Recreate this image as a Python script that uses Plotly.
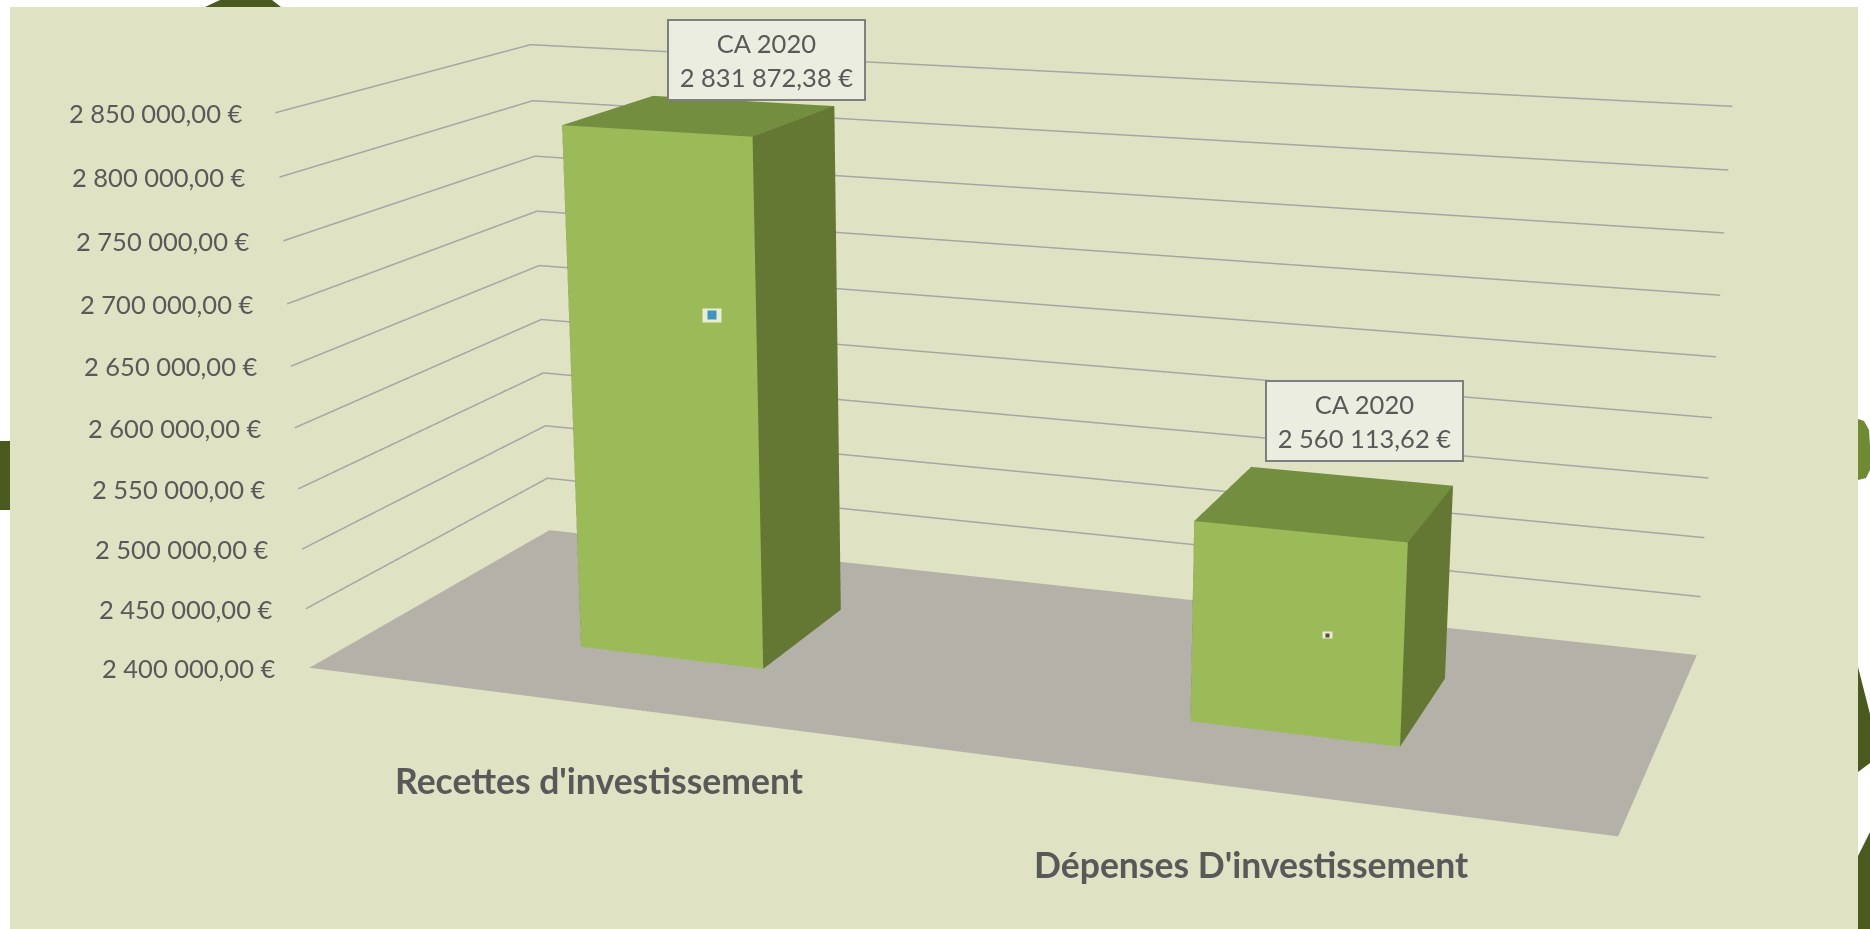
import plotly.graph_objects as go

# --- data ---
categories = ["Recettes d'investissement", "Dépenses D'investissement"]
values = [2831872.38, 2560113.62]
value_labels = ["2 831 872,38 €", "2 560 113,62 €"]
series_name = "CA 2020"
tick_values = [2400000, 2450000, 2500000, 2550000, 2600000, 2650000, 2700000, 2750000, 2800000, 2850000]
tick_labels = ["2 400 000,00 €", "2 450 000,00 €", "2 500 000,00 €", "2 550 000,00 €", "2 600 000,00 €",
               "2 650 000,00 €", "2 700 000,00 €", "2 750 000,00 €", "2 800 000,00 €", "2 850 000,00 €"]
icon_x = [0.2933, 0.7718]
icon_z = [2688500, 2481600]

# --- view ---
WIN_W, WIN_H = 1870, 929
FIG_W, FIG_H = 1966, 2566      # plotly's lens is fixed, so a large viewport gives the reference's long-lens look
LEFT, TOP = 0, -814
Z0, Z1 = tick_values[0], tick_values[-1]
ZPAD = 1000
XYPAD = 0.001
cat_pos = [0.2515, 0.749]
BAR_W = 0.156
Y0, Y1 = 0.295, 0.69
FRONT, TOPF, SIDE = "#9BBB59", "#748E40", "#647833"
FLOOR = "#B3B1A8"; PANEL = "#E0E2C4"; TXT = "#595959"; GRID = "#A6A6A6"
DARK = "#4A5A1E"; OLIVE = "#6F8A33"
FONT = "Lato"
FLAT = dict(ambient=1, diffuse=0, specular=0, fresnel=0, roughness=1)

def px(x): return (x - LEFT) / FIG_W
def py(y): return 1 - (y - TOP) / FIG_H
def poly(pts):
    return "M" + " L".join(f"{px(a):.5f},{py(b):.5f}" for a, b in pts) + " Z"

fig = go.Figure()

# floor
fig.add_trace(go.Mesh3d(x=[0, 1, 1, 0], y=[0, 0, 1, 1], z=[Z0] * 4, i=[0, 0], j=[1, 2], k=[2, 3],
                        color=FLOOR, flatshading=True, hoverinfo="skip", lighting=FLAT))

# gridlines on the two walls
for t in tick_values[1:]:
    fig.add_trace(go.Scatter3d(x=[0, 0, 1], y=[0, 1, 1], z=[t, t, t], mode="lines",
                               line=dict(color=GRID, width=3), hoverinfo="skip"))

# bars
for c, v in zip(cat_pos, values):
    x0, x1 = c - BAR_W / 2, c + BAR_W / 2
    xs = [x0, x1, x1, x0, x0, x1, x1, x0]
    ys = [Y0, Y0, Y1, Y1, Y0, Y0, Y1, Y1]
    zs = [Z0] * 4 + [v] * 4
    tri = [(0, 1, 5, FRONT), (0, 5, 4, FRONT), (1, 2, 6, SIDE), (1, 6, 5, SIDE),
           (4, 5, 6, TOPF), (4, 6, 7, TOPF), (3, 0, 4, SIDE), (3, 4, 7, SIDE),
           (2, 3, 7, SIDE), (2, 7, 6, SIDE)]
    fig.add_trace(go.Mesh3d(x=xs, y=ys, z=zs, i=[t[0] for t in tri], j=[t[1] for t in tri], k=[t[2] for t in tri],
                            facecolor=[t[3] for t in tri], flatshading=True, hoverinfo="skip", lighting=FLAT))

annotations = []
for t, l in zip(tick_values, tick_labels):
    annotations.append(dict(x=0, y=0, z=t, text=l, showarrow=False, xanchor="right", yanchor="middle",
                            xshift=-32, font=dict(family=FONT, size=25.5, color=TXT)))
for c, l in zip([0.25, 0.75], categories):
    annotations.append(dict(x=c, y=0, z=Z0, text=l, showarrow=False, xanchor="center", yanchor="middle",
                            xshift=-2, yshift=-75, font=dict(family=FONT, size=35.5, color=TXT, weight="bold")))
shifts = [(66, 55), (38, 82)]
for c, v, l, s in zip(cat_pos, values, value_labels, shifts):
    annotations.append(dict(x=c, y=(Y0 + Y1) / 2, z=v, text=f"{series_name}<br>{l}", showarrow=False,
                            xanchor="center", yanchor="middle", xshift=s[0], yshift=s[1],
                            width=193, height=76, bgcolor="#EAEDDF", bordercolor="#7F7F7F", borderwidth=2,
                            font=dict(family=FONT, size=25.5, color=TXT)))
# the two tiny pictures stuck on the bars: plain colour patches, no text
for xi, zi, (w0, h0, w1, h1), col in zip(icon_x, icon_z, [(18, 13, 8, 8), (9, 6, 3, 3)], ["#3F94C4", "#5A4A3A"]):
    for w, h, fill in [(w0, h0, "#E9EDD2"), (w1, h1, col)]:
        annotations.append(dict(x=xi, y=Y0, z=zi, text="\u00a0", showarrow=False, xanchor="center", yanchor="middle",
                                width=w, height=h, bgcolor=fill, borderpad=0, font=dict(size=1, color=fill)))

shapes = [dict(type="rect", xref="paper", yref="paper", x0=px(10), x1=px(1858), y0=py(7), y1=py(935),
               fillcolor=PANEL, line_width=0, layer="below")]
blobs = [([(205, 7), (220, 0), (272, 0), (281, 7)], DARK),
         ([(0, 441), (10, 441), (10, 510), (0, 510)], DARK),
         ([(1858, 419), (1864, 421), (1869, 430), (1870, 445), (1870, 470), (1866, 478), (1858, 480)], OLIVE),
         ([(1858, 667), (1870, 714), (1870, 763), (1858, 772)], DARK),
         ([(1858, 856), (1870, 832), (1870, 935), (1858, 935)], DARK)]
for pts, col in blobs:
    shapes.append(dict(type="path", xref="paper", yref="paper", path=poly(pts), fillcolor=col, line_width=0, layer="below"))

hidden = dict(visible=False, range=[-XYPAD, 1 + XYPAD], autorange=False)
zk = (Z1 - Z0 + 2 * ZPAD) / (Z1 - Z0)
xk = 1 + 2 * XYPAD
fig.update_layout(
    width=FIG_W, height=FIG_H, autosize=False, showlegend=False, hovermode=False,
    margin=dict(l=0, r=0, t=0, b=0), paper_bgcolor="white", shapes=shapes,
    scene=dict(
        domain=dict(x=[0, 1], y=[0, 1]), bgcolor="rgba(0,0,0,0)", dragmode=False,
        xaxis=hidden, yaxis=hidden,
        zaxis=dict(visible=False, range=[Z0 - ZPAD, Z1 + ZPAD], autorange=False),
        aspectmode="manual", aspectratio=dict(x=2.3273 * xk, y=0.9192 * xk, z=zk),
        camera=dict(eye=dict(x=1.7625, y=-4.9873, z=1.3211),
                    center=dict(x=1.7625 - 0.3287 * 5.45, y=-4.9873 + 0.9061 * 5.45, z=1.3211 - 0.2663 * 5.45),
                    up=dict(x=0, y=0, z=1), projection=dict(type="perspective")),
        annotations=annotations))

post = ("var g=document.getElementById('{plot_id}');g.style.position='fixed';"
        f"g.style.left='{LEFT}px';g.style.top='{TOP}px';"
        "document.documentElement.style.overflow='hidden';document.body.style.overflow='hidden';"
        "document.body.style.fontVariantLigatures='none';")
fig.write_html("out.html", config=dict(displayModeBar=False, responsive=False), post_script=post)
